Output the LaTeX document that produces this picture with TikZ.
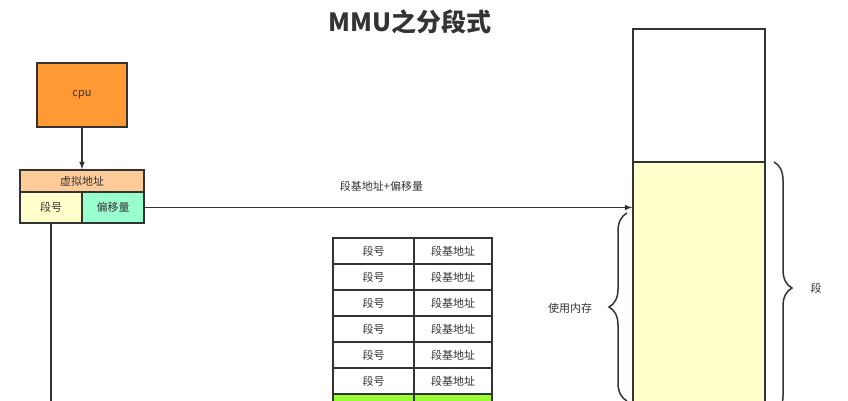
\documentclass[tikz,border=0pt]{standalone}
\usepackage{fontspec}
\setmainfont{Noto Sans CJK SC}
\usepackage{tikz}
\usetikzlibrary{decorations.pathreplacing}
\definecolor{linegray}{HTML}{333333}
\definecolor{textgray}{HTML}{333333}
\definecolor{cpuorange}{HTML}{FF9933}
\definecolor{peach}{HTML}{FFCC99}
\definecolor{paleyellow}{HTML}{FFFFCC}
\definecolor{mint}{HTML}{99FFCC}
\definecolor{lime}{HTML}{99FF33}
\begin{document}
\begin{tikzpicture}[x=1pt,y=-1pt]
\tikzset{box/.style = {shape=rectangle,draw=linegray,line width=1.5pt,inner sep=0pt,text=textgray,font=\fontsize{11}{13}\selectfont}}
\tikzset{cell/.style = {box,minimum height=26pt}}
\tikzset{edge/.style = {->,> = latex,line width=1.5pt,draw=linegray}}
\tikzset{brace/.style = {decorate,decoration={brace,amplitude=18pt},line width=1.5pt,draw=linegray}}
\tikzset{label/.style = {text=textgray,font=\fontsize{11}{13}\selectfont}}
\useasboundingbox (0,0) rectangle (848,400);
\clip (0,0) rectangle (848,400);
%\fill[white] (0,0) rectangle (848,400);
\node[text=textgray,font=\fontsize{25}{29}\selectfont\bfseries] (title) at (410,22) {MMU之分段式};
\node[box,fill=cpuorange,minimum width=90pt,minimum height=64pt] (cpu) at (82,95) {cpu};
\node[box,fill=peach,minimum width=124pt,minimum height=22pt] (vaddr) at (82,181) {虚拟地址};
\node[box,fill=paleyellow,minimum width=62pt,minimum height=31pt] (seg) at (51,207.5) {段号};
\node[box,fill=mint,minimum width=62pt,minimum height=31pt] (off) at (113,207.5) {偏移量};
% segment table
\foreach \i in {0,...,5} {
  \node[cell,minimum width=81pt] (segno\i) at (373.5,251+26*\i) {段号};
  \node[cell,minimum width=78pt] (segbase\i) at (453,251+26*\i) {段基地址};
}
\node[cell,fill=lime,minimum width=81pt] (segno6) at (373.5,407) {};
\node[cell,fill=lime,minimum width=78pt] (segbase6) at (453,407) {};
% memory
\node[box,minimum width=132pt,minimum height=133pt] (memtop) at (699,95.5) {};
\node[box,fill=paleyellow,minimum width=132pt,minimum height=278pt] (memseg) at (699,301) {};
\coordinate (segend) at (51,430);
\draw[edge] (cpu) to (vaddr);
\draw[edge] (off.east) to node[label,above=12pt,xshift=-7pt] {段基地址+偏移量} (off.east -| memseg.west);
\draw[line width=1.5pt,draw=linegray] (seg) to (segend);
\draw[brace] (627,401) to (627,213);
\draw[brace] (774,162) to (774,414);
\node[label] (used) at (570,308) {使用内存};
\node[label] (seglabel) at (816,288) {段};
\end{tikzpicture}
\end{document}
